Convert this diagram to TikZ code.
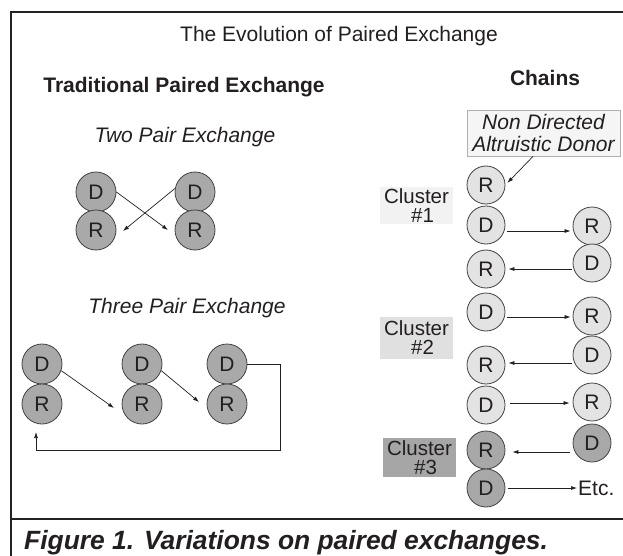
\documentclass[tikz,border=0pt]{standalone}
\usepackage{fontspec}
\setmainfont{Liberation Sans}
\usetikzlibrary{arrows.meta}
\definecolor{ink}{HTML}{231F20}
\definecolor{framec}{HTML}{222222}
\definecolor{tradfill}{HTML}{A9A9A9}
\definecolor{lightfill}{HTML}{E3E3E3}
\definecolor{darkfill}{HTML}{A8A8A8}
\definecolor{cone}{HTML}{F2F2F2}
\definecolor{ctwo}{HTML}{E0E0E0}
\definecolor{cthree}{HTML}{A6A6A6}
\definecolor{ndfill}{HTML}{F5F5F5}
\definecolor{nddraw}{HTML}{B0B0B0}
\tikzset{
  framestyle/.style={line width=2.5pt, draw=framec},
  circ/.style={circle, draw=ink!85, line width=0.8pt, inner sep=0pt, text=ink,
    font=\fontsize{21}{21}\selectfont},
  trad/.style={circ, fill=tradfill, minimum size=40pt},
  lightc/.style={circ, fill=lightfill, minimum size=38pt},
  darkc/.style={circ, fill=darkfill, minimum size=38pt},
  arr/.style={-{Latex[length=6pt,width=4pt]}, line width=0.7pt, draw=ink},
  reg/.style={text=ink, inner sep=0pt, anchor=base, font=\fontsize{21}{25}\selectfont},
  boldt/.style={reg, font=\bfseries\fontsize{21}{25}\selectfont},
  itt/.style={reg, font=\itshape\fontsize{21}{25}\selectfont},
  clbox/.style={text=ink, inner sep=0pt, minimum width=73pt, align=center,
    font=\fontsize{20.5}{19}\selectfont},
  ndbox/.style={text=ink, draw=nddraw, fill=ndfill, line width=0.8pt, inner sep=0pt,
    minimum width=153pt, minimum height=46pt, align=center,
    font=\itshape\fontsize{21}{21.5}\selectfont},
}
\begin{document}
\begin{tikzpicture}[x=1pt,y=-1pt]
\useasboundingbox (0,0) rectangle (623,556);
\fill[white] (0,0) rectangle (623,556);
% frame
\draw[framestyle] (11,560) -- (11,12) -- (630,12);
\draw[framestyle] (11,519) -- (630,519);

% titles
\node[reg] (title) at (339,42) {The Evolution of Paired Exchange};
\node[boldt] (trad) at (184,93) {Traditional Paired Exchange};
\node[itt] (two) at (185,143) {Two Pair Exchange};
\node[itt] (three) at (187,313) {Three Pair Exchange};
\node[boldt] (chains) at (545,86) {Chains};

% two pair exchange
\node[trad] (ad) at (96,192) {D};
\node[trad] (ar) at (96,230) {R};
\node[trad] (bd) at (195,192) {D};
\node[trad] (br) at (195,230) {R};
\coordinate (ta) at (168,230);
\coordinate (tb) at (123,231);
\draw[arr] (ad.east) -- (ta);
\draw[arr] (bd.170) -- (tb);

% three pair exchange
\node[trad] (pd1) at (42,364) {D};
\node[trad] (pr1) at (42,404) {R};
\node[trad] (pd2) at (142,364) {D};
\node[trad] (pr2) at (142,404) {R};
\node[trad] (pd3) at (227,364) {D};
\node[trad] (pr3) at (227,404) {R};
\coordinate (t1) at (114,408);
\coordinate (t2) at (199,402);
\coordinate (lp) at (280,450);
\coordinate (tl) at (36,432);
\draw[arr] (pd1.-19) -- (t1);
\draw[arr] (pd2.-19) -- (t2);
\draw[arr] (pd3.east) -| (lp) -| (tl);

% chains
\node[ndbox] (nd) at (543.5,133) {Non Directed\\Altruistic Donor};
\node[clbox, fill=cone, minimum height=37pt] (c1) at (416.5,205.5) {Cluster\\\hspace*{12pt}\#1};
\node[clbox, fill=ctwo, minimum height=42pt] (c2) at (416.5,338) {Cluster\\\hspace*{12pt}\#2};
\node[clbox, fill=cthree, minimum height=39pt] (c3) at (419.5,457.5) {Cluster\\\hspace*{12pt}\#3};

\node[lightc] (lr1) at (486,185) {R};
\node[lightc] (ld1) at (486,225) {D};
\node[lightc] (rr1) at (592,226) {R};
\node[lightc] (rd1) at (592,263) {D};
\node[lightc] (lr2) at (486,269) {R};
\node[lightc] (ld2) at (486,312) {D};
\node[lightc] (rr2) at (592,316) {R};
\node[lightc] (rd2) at (592,355) {D};
\node[lightc] (lr3) at (486,365) {R};
\node[lightc] (ld3) at (486,405) {D};
\node[lightc] (rr3) at (592,402) {R};
\node[darkc] (rd3) at (592,443) {D};
\node[darkc] (lr4) at (486,450) {R};
\node[darkc] (ld4) at (486,488) {D};
\node[reg, anchor=west, inner sep=1pt] (etc) at (577,488) {Etc.};

\draw[arr] ([xshift=-10.5pt]nd.south) -- ([xshift=2pt]lr1.6);
\draw[arr] ([xshift=2pt,yshift=-6pt]ld1.east) -- ([xshift=-2pt,yshift=-5pt]rr1.west);
\draw[arr] ([xshift=-1pt,yshift=-6pt]rd1.west) -- ([xshift=3pt]lr2.east);
\draw[arr] ([xshift=2pt,yshift=-5pt]ld2.east) -- ([xshift=-2pt,yshift=-1pt]rr2.west);
\draw[arr] ([xshift=-1pt,yshift=-8pt]rd2.west) -- ([xshift=3pt,yshift=2pt]lr3.east);
\draw[arr] ([xshift=5pt,yshift=2pt]ld3.east) -- ([xshift=-3pt,yshift=-1pt]rr3.west);
\draw[arr] ([xshift=-3pt,yshift=-9pt]rd3.west) -- ([xshift=7pt,yshift=-2pt]lr4.east);
\draw[arr] ([xshift=3pt]ld4.east) -- (etc.west);

% caption
\node[anchor=base west, inner sep=0pt, text=ink, font=\bfseries\itshape\fontsize{26.4}{30}\selectfont] (cap) at (24,549) {Figure 1. Variations on paired exchanges.};
\end{tikzpicture}
\end{document}
